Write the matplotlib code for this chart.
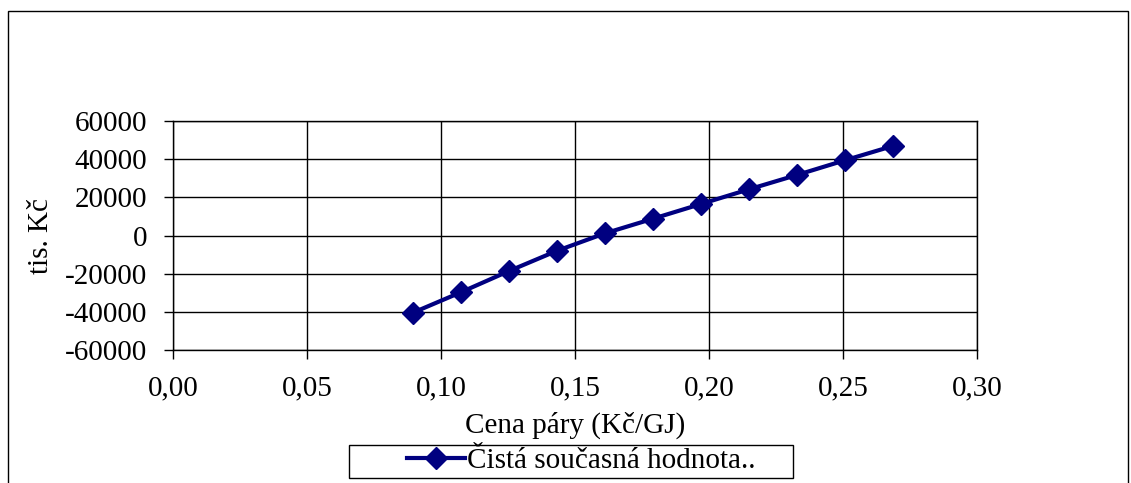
import matplotlib.pyplot as plt
from matplotlib.patches import Rectangle

# cena páry (Kč/GJ) a čistá současná hodnota (tis. Kč)
cena = [0.0896, 0.1075, 0.1254, 0.1433, 0.1612, 0.1791, 0.1970, 0.2149, 0.2328, 0.2507, 0.2686]
csh = [-40400, -29700, -18600, -8000, 1150, 8800, 16500, 24200, 31700, 39400, 46900]

x_ticks = [0.00, 0.05, 0.10, 0.15, 0.20, 0.25, 0.30]
x_labels = ["0,00", "0,05", "0,10", "0,15", "0,20", "0,25", "0,30"]
y_ticks = [-60000, -40000, -20000, 0, 20000, 40000, 60000]
y_labels = ["-60000", "-40000", "-20000", "0", "20000", "40000", "60000"]

plt.rcParams["font.family"] = ["Liberation Serif", "DejaVu Serif"]
FS = 21

W, H = 1131, 483
fig = plt.figure(figsize=(W / 100, H / 100), dpi=100)
ax = fig.add_axes([173 / W, 1 - 350 / H, (977 - 173) / W, (350 - 121) / H])

ax.plot(cena, csh, "-D", color="#000080", lw=3, markersize=11.5,
        label="Čistá současná hodnota..")

ax.set_xlim(0, 0.30)
ax.set_ylim(-60000, 60000)
ax.set_xticks(x_ticks)
ax.set_xticklabels(x_labels)
ax.set_yticks(y_ticks)
ax.set_yticklabels(y_labels)
ax.grid(True, color="black", lw=1)
ax.set_axisbelow(True)
for s in ax.spines.values():
    s.set_color("black")
    s.set_linewidth(1)
ax.tick_params(axis="y", labelsize=FS, length=6.5, width=1, color="black", pad=12)
ax.tick_params(axis="x", labelsize=FS, length=6.5, width=1, color="black", pad=11.5)

ax.set_xlabel("Cena páry (Kč/GJ)", fontsize=FS, labelpad=8)
ax.set_ylabel("tis. Kč", fontsize=FS, labelpad=8)

# legenda: rámeček zvlášť, je širší než obsah
fig.patches.append(Rectangle((349 / W, 1 - 478 / H), (793 - 349) / W, 33 / H,
                             transform=fig.transFigure, fill=False,
                             edgecolor="black", lw=1))
fig.legend(loc="center left", bbox_to_anchor=(407 / W, 1 - 461 / H),
           frameon=False, fontsize=FS, handlelength=2.0,
           borderpad=0, handletextpad=0.05, borderaxespad=0)

# rámeček kolem celého grafu
fig.patches.append(Rectangle((8 / W, -0.05), (1128 - 8) / W, 1 - 11 / H + 0.05,
                             transform=fig.transFigure, fill=False,
                             edgecolor="black", lw=1))

fig.savefig("out.png", dpi=100)
